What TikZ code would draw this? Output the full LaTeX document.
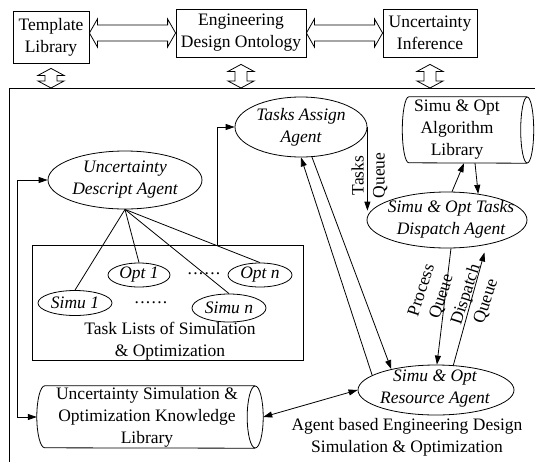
\documentclass[tikz,border=0pt]{standalone}
\usepackage{fontspec}
\setmainfont{Liberation Serif}
\usetikzlibrary{shapes.geometric,arrows.meta,calc}
\newcommand\vhollow[2]{%
  \draw[hollow] let \p1=(#1), \p2=(#1 |- #2) in
    (\p1) -- (\x1-13pt,\y1-7pt) -- (\x1-6pt,\y1-7pt) -- (\x1-6pt,\y2+7pt) -- (\x1-13pt,\y2+7pt)
    -- (\p2) -- (\x1+13pt,\y2+7pt) -- (\x1+6pt,\y2+7pt) -- (\x1+6pt,\y1-7pt) -- (\x1+13pt,\y1-7pt) -- cycle;}
\newcommand\hhollow[2]{%
  \draw[hollow] let \p1=(#1), \p2=(#2) in
    (\p1) -- (\x1+8pt,\y1+14pt) -- (\x1+8pt,\y1+8pt) -- (\x2-8pt,\y2+8pt) -- (\x2-8pt,\y2+14pt)
    -- (\p2) -- (\x2-8pt,\y2-14pt) -- (\x2-8pt,\y2-8pt) -- (\x1+8pt,\y1-8pt) -- (\x1+8pt,\y1-14pt) -- cycle;}
\newcommand\cylout[3]{%
  \draw[plain] (#1.north east) -- (#1.north west) arc[start angle=90,end angle=270,x radius=#2,y radius=#3] -- (#1.south east);
  \draw[plain] (#1.east) ellipse[x radius=#2,y radius=#3];}
\tikzset{
  box/.style={draw, rectangle, inner sep=0pt, align=center, line width=0.8pt},
  agent/.style={draw, ellipse, inner sep=0pt, line width=0.8pt},
  itext/.style={align=center, inner sep=0pt, font=\fontsize{17.5}{22}\selectfont\itshape},
  ptext/.style={align=center, inner sep=0pt},
  qlabel/.style={align=center, inner sep=0pt, font=\fontsize{17.5}{21}\selectfont},
  plain/.style={line width=0.8pt},
  arr/.style={-{Triangle[length=9pt,width=6pt]}, line width=0.8pt},
  arrs/.style={{Triangle[length=9pt,width=6pt]}-{Triangle[length=9pt,width=6pt]}, line width=0.8pt},
  hollow/.style={draw, line width=0.8pt, line join=miter},
}
\begin{document}
\begin{tikzpicture}[x=1pt,y=-1pt,font=\fontsize{17.5}{22}\selectfont]
\useasboundingbox (0,0) rectangle (535,461);
% top boxes
\node[box, minimum width=76pt, minimum height=52pt] (tl) at (51,37) {Template\\Library};
\node[box, minimum width=130pt, minimum height=48pt] (edo) at (241,33) {Engineering\\Design Ontology};
\node[box, minimum width=94pt, minimum height=48pt] (ui) at (430,33) {Uncertainty\\Inference};
% frame
\node[draw, line width=0.8pt, inner sep=0pt, minimum width=540pt, minimum height=390pt, anchor=north west] (frame) at (9,88) {};
% hollow arrows
\hhollow{tl.east |- edo.west}{edo.west}
\hhollow{edo.east}{ui.west}
\coordinate (tla) at ([yshift=-5pt]tl.south);
\coordinate (edoa) at ([yshift=-7pt]edo.south);
\coordinate (uia) at ([yshift=-7pt]ui.south);
\vhollow{tla}{frame.north}
\vhollow{edoa}{frame.north}
\vhollow{uia}{frame.north}
% task list box
\node[box, minimum width=271pt, minimum height=115pt] (tlbox) at (167.5,302.5) {};
% agents
\node[agent, minimum width=154pt, minimum height=58pt] (uda) at (125,180) {};
\node[itext] (udat) at (uda) {Uncertainty\\Descript Agent};
\node[agent, minimum width=132pt, minimum height=60pt] (taa) at (301,127) {};
\node[itext] (taat) at (taa) {Tasks Assign\\Agent};
\node[agent, minimum width=160pt, minimum height=56pt] (dis) at (447,220) {};
\node[itext] (dist) at (451,219) {Simu \& Opt Tasks\\Dispatch Agent};
\node[agent, minimum width=156pt, minimum height=50pt] (res) at (436,390) {};
\node[itext] (rest) at (435,389) {Simu \& Opt\\Resource Agent};
% small task ellipses
\node[agent, minimum width=74pt, minimum height=25pt] (s1) at (75,303) {};
\node[itext] (s1t) at (s1) {Simu 1};
\node[agent, minimum width=62pt, minimum height=24pt] (o1) at (139,275) {};
\node[itext] (o1t) at (o1) {Opt 1};
\node[agent, minimum width=74pt, minimum height=28pt] (sn) at (229,308) {};
\node[itext] (snt) at (sn) {Simu n};
\node[agent, minimum width=64pt, minimum height=24pt] (on) at (260,275) {};
\node[itext] (ont) at (on) {Opt n};
\node[ptext] (d1) at (204,274) {.\kern1.3pt.\kern1.3pt.\kern1.3pt.\kern1.3pt.\kern1.3pt.};
\node[ptext] (d2) at (151,303) {.\kern1.3pt.\kern1.3pt.\kern1.3pt.\kern1.3pt.\kern1.3pt.};
\node[ptext] (tlt) at (170,341) {Task Lists of Simulation\\\& Optimization};
% cylinders
\node[inner sep=0pt, minimum width=210pt, minimum height=62pt] (kl) at (150,417) {};
\cylout{kl}{8pt}{31pt}
\node[ptext] (klt) at (147,417) {Uncertainty Simulation \&\\Optimization Knowledge\\Library};
\node[inner sep=0pt, minimum width=118pt, minimum height=66pt] (alg) at (468,130) {};
\cylout{alg}{6.5pt}{33pt}
\node[ptext] (algt) at (457,130) {Simu \& Opt\\Algorithm\\Library};
% connectors
\foreach \t in {s1,o1,sn,on} \draw[plain] (uda.south) -- (\t.north);
\draw[arrs] (uda.west) -- ++(-30,0) |- ([xshift=-8pt]kl.west);
\draw[arr] ([xshift=186pt]tlbox.north west) |- (taa.west);
\draw[arr] (res.167) -- (taa.south);
\draw[arr] (taa.-70) -- (res.155);
\draw[arr] (taa.east) -- (taa.east |- dis.173);
\node[qlabel, rotate=90] (tq) at (369.5,175.5) {Tasks\\Queue};
\draw[arr] (dis.80) -- ([xshift=-4pt]alg.south);
\draw[arr] ([xshift=7pt]alg.south) -- (dis.40);
\draw[arr] (dis.-82) -- (res.88);
\draw[arr, shorten >=8pt] (res.55) -- (dis.-32);
\node[qlabel, rotate=72] (pq) at (432,293.5) {Process\\Queue};
\node[qlabel, rotate=72] (dq) at (476,298) {Dispatch\\Queue};
\draw[arrs] ([xshift=8pt]kl.east) -- (res.west);
\node[ptext] (abt) at (407,437) {Agent based Engineering Design\\Simulation \& Optimization};
\end{tikzpicture}
\end{document}
